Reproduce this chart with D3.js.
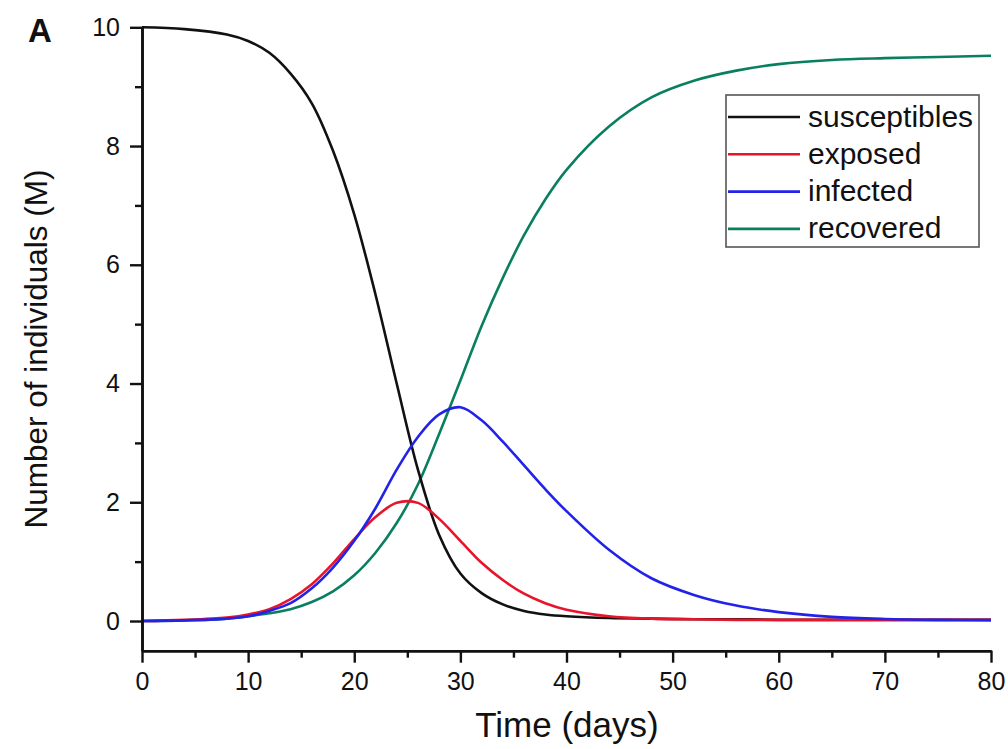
<!DOCTYPE html>
<html>
<head>
<meta charset="utf-8">
<script src="https://cdn.jsdelivr.net/npm/d3@7/dist/d3.min.js"></script>
<style>
  html, body { margin: 0; padding: 0; background: #fff; }
  svg { display: block; }
  text { font-family: "Liberation Sans", Arial, Helvetica, sans-serif; fill: #111; }
</style>
</head>
<body>
<svg id="chart" width="1008" height="749"></svg>
<script>
// ---- data ----
const days = [0, 4, 8, 10, 12, 14, 16, 18, 20, 22, 24, 26, 28, 30, 32, 34, 36, 38, 40, 44, 48, 52, 56, 60, 65, 70, 75, 80];
const susceptibles = [10, 9.97, 9.88, 9.77, 9.57, 9.22, 8.72, 7.92, 6.85, 5.5, 4.0, 2.55, 1.45, 0.8, 0.47, 0.28, 0.17, 0.11, 0.08, 0.05, 0.04, 0.03, 0.03, 0.02, 0.02, 0.02, 0.02, 0.02];
const exposed      = [0, 0.02, 0.06, 0.11, 0.2, 0.37, 0.62, 0.97, 1.38, 1.75, 1.99, 1.99, 1.72, 1.35, 0.98, 0.69, 0.46, 0.3, 0.19, 0.08, 0.04, 0.03, 0.02, 0.02, 0.02, 0.02, 0.02, 0.02];
const infected     = [0, 0.01, 0.04, 0.08, 0.17, 0.3, 0.55, 0.9, 1.35, 1.9, 2.55, 3.1, 3.48, 3.6, 3.38, 3.02, 2.62, 2.22, 1.85, 1.2, 0.72, 0.44, 0.26, 0.15, 0.07, 0.035, 0.02, 0.015];
const recovered    = [0, 0.01, 0.04, 0.08, 0.13, 0.2, 0.32, 0.5, 0.77, 1.15, 1.65, 2.3, 3.15, 4.05, 4.97, 5.78, 6.5, 7.1, 7.6, 8.33, 8.82, 9.1, 9.27, 9.38, 9.45, 9.48, 9.5, 9.52];

const seriesNames  = ["susceptibles", "exposed", "infected", "recovered"];
const seriesValues = [susceptibles, exposed, infected, recovered];
const seriesColors = ["#111111", "#e8142c", "#2222e8", "#0a7f60"];

const xMajorTicks = [0, 10, 20, 30, 40, 50, 60, 70, 80];
const xMinorTicks = [5, 15, 25, 35, 45, 55, 65, 75];
const yMajorTicks = [0, 2, 4, 6, 8, 10];
const yMinorTicks = [1, 3, 5, 7, 9];

const xTitle = "Time (days)";
const yTitle = "Number of individuals (M)";
const panelLabel = "A";

// ---- drawing ----
const svg = d3.select("#chart");
const x = d3.scaleLinear().domain([0, 80]).range([142, 991]);
const y = d3.scaleLinear().domain([-0.5, 10]).range([650.7, 27.3]);

const line = d3.line()
  .x((d, i) => x(days[i]))
  .y(d => y(d))
  .curve(d3.curveCatmullRom.alpha(0.5));

const order = [3, 0, 1, 2];
order.forEach(k => {
  svg.append("path")
    .attr("d", line(seriesValues[k]))
    .attr("fill", "none")
    .attr("stroke", seriesColors[k])
    .attr("stroke-width", 2.6)
    .attr("stroke-linejoin", "round");
});

function styleAxis(g) {
  g.select(".domain").attr("stroke", "#111").attr("stroke-width", 2.6);
  g.selectAll(".tick line").attr("stroke", "#111").attr("stroke-width", 2.4);
  g.selectAll(".tick text").attr("font-size", 25).attr("fill", "#111")
    .attr("font-family", '"Liberation Sans", Arial, sans-serif');
}

const yAxis = svg.append("g").attr("transform", `translate(${x(0)},0)`)
  .call(d3.axisLeft(y).tickValues(yMajorTicks).tickSize(12).tickSizeOuter(0).tickPadding(10).tickFormat(d3.format("d")));
styleAxis(yAxis);
const yAxisMinor = svg.append("g").attr("transform", `translate(${x(0)},0)`)
  .call(d3.axisLeft(y).tickValues(yMinorTicks).tickSize(7).tickSizeOuter(0).tickFormat(""));
styleAxis(yAxisMinor);

const xAxis = svg.append("g").attr("transform", `translate(0,${y(-0.5)})`)
  .call(d3.axisBottom(x).tickValues(xMajorTicks).tickSize(12).tickSizeOuter(0).tickPadding(10).tickFormat(d3.format("d")));
styleAxis(xAxis);
const xAxisMinor = svg.append("g").attr("transform", `translate(0,${y(-0.5)})`)
  .call(d3.axisBottom(x).tickValues(xMinorTicks).tickSize(7).tickSizeOuter(0).tickFormat(""));
styleAxis(xAxisMinor);

svg.append("text")
  .attr("x", 567).attr("y", 737)
  .attr("text-anchor", "middle")
  .attr("font-size", 35)
  .text(xTitle);

svg.append("text")
  .attr("transform", "translate(47,349) rotate(-90)")
  .attr("text-anchor", "middle")
  .attr("font-size", 31.5)
  .text(yTitle);

svg.append("text")
  .attr("x", 28).attr("y", 42)
  .attr("font-size", 33)
  .attr("font-weight", "bold")
  .text(panelLabel);

const legend = svg.append("g");
legend.append("rect")
  .attr("x", 726).attr("y", 95).attr("width", 253).attr("height", 152)
  .attr("fill", "#fff").attr("stroke", "#555").attr("stroke-width", 1.6);
seriesNames.forEach((name, i) => {
  const cy = 117 + i * 37.3;
  legend.append("line")
    .attr("x1", 728).attr("x2", 800).attr("y1", cy).attr("y2", cy)
    .attr("stroke", seriesColors[i]).attr("stroke-width", 2.6);
  legend.append("text")
    .attr("x", 808).attr("y", cy + 9.5)
    .attr("font-size", 30)
    .text(name);
});
</script>
</body>
</html>
